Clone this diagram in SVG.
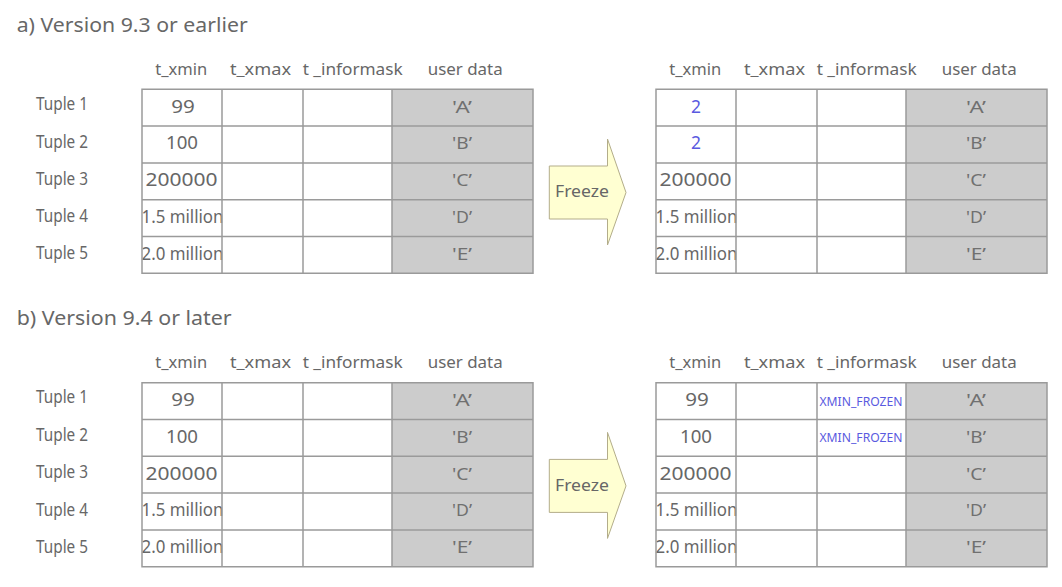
<svg xmlns="http://www.w3.org/2000/svg" width="1062" height="587" viewBox="0 0 1062 587">
<style>
text{font-family:"Noto Sans","DejaVu Sans",sans-serif;fill:#676767}
.title{font-size:20px}
.hdr{font-size:16.5px}
.tup{font-size:18.5px}
.cell{font-size:17.5px;text-anchor:middle}
.ud{font-size:17px;text-anchor:middle;fill:#707070}
.blue{fill:#5a5ae0}
.flag{font-size:12px;text-anchor:middle;fill:#5a5ae0}
.frz{font-size:17px}
.bgw{fill:#ffffff}
.bgg{fill:#cccccc}
.grid{fill:none;stroke:#9a9a9a;stroke-width:1.5}
.arrow{fill:#ffffd2;stroke:#b3ad8a;stroke-width:1}
</style>
<defs>
<path id="gridpath" d="M0,0H391V184H0Z M80,0V184 M161,0V184 M250,0V184 M0,36.8H391 M0,73.6H391 M0,110.4H391 M0,147.2H391"/>
</defs>

<g id="title-a"><text class="title" x="16.7" y="32.3" textLength="231" lengthAdjust="spacingAndGlyphs">a) Version 9.3 or earlier</text></g>
<g id="title-b"><text class="title" x="16.7" y="325" textLength="215" lengthAdjust="spacingAndGlyphs">b) Version 9.4 or later</text></g>

<g id="tuples-a">
<text class="tup" x="36" y="110" textLength="52" lengthAdjust="spacingAndGlyphs">Tuple 1</text>
<text class="tup" x="36" y="147.7" textLength="52" lengthAdjust="spacingAndGlyphs">Tuple 2</text>
<text class="tup" x="36" y="185" textLength="52" lengthAdjust="spacingAndGlyphs">Tuple 3</text>
<text class="tup" x="36" y="222.3" textLength="52" lengthAdjust="spacingAndGlyphs">Tuple 4</text>
<text class="tup" x="36" y="259.3" textLength="52" lengthAdjust="spacingAndGlyphs">Tuple 5</text>
</g>
<g id="tuples-b">
<text class="tup" x="36" y="403.4" textLength="52" lengthAdjust="spacingAndGlyphs">Tuple 1</text>
<text class="tup" x="36" y="441.1" textLength="52" lengthAdjust="spacingAndGlyphs">Tuple 2</text>
<text class="tup" x="36" y="478.4" textLength="52" lengthAdjust="spacingAndGlyphs">Tuple 3</text>
<text class="tup" x="36" y="515.7" textLength="52" lengthAdjust="spacingAndGlyphs">Tuple 4</text>
<text class="tup" x="36" y="552.7" textLength="52" lengthAdjust="spacingAndGlyphs">Tuple 5</text>
</g>

<g id="headers-a-before">
<text class="hdr" x="155.3" y="75" textLength="52" lengthAdjust="spacingAndGlyphs">t_xmin</text>
<text class="hdr" x="230" y="75" textLength="61" lengthAdjust="spacingAndGlyphs">t_xmax</text>
<text class="hdr" x="302.7" y="75" textLength="100" lengthAdjust="spacingAndGlyphs">t _informask</text>
<text class="hdr" x="427.7" y="75" textLength="75" lengthAdjust="spacingAndGlyphs">user data</text>
</g>
<g id="headers-a-after">
<text class="hdr" x="669.3" y="75" textLength="52" lengthAdjust="spacingAndGlyphs">t_xmin</text>
<text class="hdr" x="744" y="75" textLength="61" lengthAdjust="spacingAndGlyphs">t_xmax</text>
<text class="hdr" x="816.7" y="75" textLength="100" lengthAdjust="spacingAndGlyphs">t _informask</text>
<text class="hdr" x="941.7" y="75" textLength="75" lengthAdjust="spacingAndGlyphs">user data</text>
</g>
<g id="headers-b-before">
<text class="hdr" x="155.3" y="368.4" textLength="52" lengthAdjust="spacingAndGlyphs">t_xmin</text>
<text class="hdr" x="230" y="368.4" textLength="61" lengthAdjust="spacingAndGlyphs">t_xmax</text>
<text class="hdr" x="302.7" y="368.4" textLength="100" lengthAdjust="spacingAndGlyphs">t _informask</text>
<text class="hdr" x="427.7" y="368.4" textLength="75" lengthAdjust="spacingAndGlyphs">user data</text>
</g>
<g id="headers-b-after">
<text class="hdr" x="669.3" y="368.4" textLength="52" lengthAdjust="spacingAndGlyphs">t_xmin</text>
<text class="hdr" x="744" y="368.4" textLength="61" lengthAdjust="spacingAndGlyphs">t_xmax</text>
<text class="hdr" x="816.7" y="368.4" textLength="100" lengthAdjust="spacingAndGlyphs">t _informask</text>
<text class="hdr" x="941.7" y="368.4" textLength="75" lengthAdjust="spacingAndGlyphs">user data</text>
</g>

<g id="table-a-before" transform="translate(142,89.3)">
<rect class="bgw" x="0" y="0" width="250" height="184"/>
<rect class="bgg" x="250" y="0" width="141" height="184"/>
<text class="cell" x="41" y="23.4" textLength="23.6" lengthAdjust="spacingAndGlyphs">99</text>
<text class="cell" x="40" y="60.2" textLength="32" lengthAdjust="spacingAndGlyphs">100</text>
<text class="cell" x="39.5" y="97" textLength="72" lengthAdjust="spacingAndGlyphs">200000</text>
<text class="cell" x="40.5" y="133.8" textLength="82" lengthAdjust="spacingAndGlyphs">1.5 million</text>
<text class="cell" x="40.5" y="170.6" textLength="82" lengthAdjust="spacingAndGlyphs">2.0 million</text>
<text class="ud" x="320" y="23.4" textLength="20" lengthAdjust="spacingAndGlyphs">'A’</text>
<text class="ud" x="320" y="60.2" textLength="20" lengthAdjust="spacingAndGlyphs">'B’</text>
<text class="ud" x="320" y="97" textLength="20" lengthAdjust="spacingAndGlyphs">'C’</text>
<text class="ud" x="320" y="133.8" textLength="20" lengthAdjust="spacingAndGlyphs">'D’</text>
<text class="ud" x="320" y="170.6" textLength="20" lengthAdjust="spacingAndGlyphs">'E’</text>
<use href="#gridpath" class="grid"/>
</g>

<g id="table-a-after" transform="translate(656,89.3)">
<rect class="bgw" x="0" y="0" width="250" height="184"/>
<rect class="bgg" x="250" y="0" width="141" height="184"/>
<text class="cell blue" x="40" y="23.4" textLength="10" lengthAdjust="spacingAndGlyphs">2</text>
<text class="cell blue" x="40" y="60.2" textLength="10" lengthAdjust="spacingAndGlyphs">2</text>
<text class="cell" x="39.5" y="97" textLength="72" lengthAdjust="spacingAndGlyphs">200000</text>
<text class="cell" x="40.5" y="133.8" textLength="82" lengthAdjust="spacingAndGlyphs">1.5 million</text>
<text class="cell" x="40.5" y="170.6" textLength="82" lengthAdjust="spacingAndGlyphs">2.0 million</text>
<text class="ud" x="320" y="23.4" textLength="20" lengthAdjust="spacingAndGlyphs">'A’</text>
<text class="ud" x="320" y="60.2" textLength="20" lengthAdjust="spacingAndGlyphs">'B’</text>
<text class="ud" x="320" y="97" textLength="20" lengthAdjust="spacingAndGlyphs">'C’</text>
<text class="ud" x="320" y="133.8" textLength="20" lengthAdjust="spacingAndGlyphs">'D’</text>
<text class="ud" x="320" y="170.6" textLength="20" lengthAdjust="spacingAndGlyphs">'E’</text>
<use href="#gridpath" class="grid"/>
</g>

<g id="table-b-before" transform="translate(142,382.7)">
<rect class="bgw" x="0" y="0" width="250" height="184"/>
<rect class="bgg" x="250" y="0" width="141" height="184"/>
<text class="cell" x="41" y="23.4" textLength="23.6" lengthAdjust="spacingAndGlyphs">99</text>
<text class="cell" x="40" y="60.2" textLength="32" lengthAdjust="spacingAndGlyphs">100</text>
<text class="cell" x="39.5" y="97" textLength="72" lengthAdjust="spacingAndGlyphs">200000</text>
<text class="cell" x="40.5" y="133.8" textLength="82" lengthAdjust="spacingAndGlyphs">1.5 million</text>
<text class="cell" x="40.5" y="170.6" textLength="82" lengthAdjust="spacingAndGlyphs">2.0 million</text>
<text class="ud" x="320" y="23.4" textLength="20" lengthAdjust="spacingAndGlyphs">'A’</text>
<text class="ud" x="320" y="60.2" textLength="20" lengthAdjust="spacingAndGlyphs">'B’</text>
<text class="ud" x="320" y="97" textLength="20" lengthAdjust="spacingAndGlyphs">'C’</text>
<text class="ud" x="320" y="133.8" textLength="20" lengthAdjust="spacingAndGlyphs">'D’</text>
<text class="ud" x="320" y="170.6" textLength="20" lengthAdjust="spacingAndGlyphs">'E’</text>
<use href="#gridpath" class="grid"/>
</g>

<g id="table-b-after" transform="translate(656,382.7)">
<rect class="bgw" x="0" y="0" width="250" height="184"/>
<rect class="bgg" x="250" y="0" width="141" height="184"/>
<text class="cell" x="41" y="23.4" textLength="23.6" lengthAdjust="spacingAndGlyphs">99</text>
<text class="cell" x="40" y="60.2" textLength="32" lengthAdjust="spacingAndGlyphs">100</text>
<text class="cell" x="39.5" y="97" textLength="72" lengthAdjust="spacingAndGlyphs">200000</text>
<text class="cell" x="40.5" y="133.8" textLength="82" lengthAdjust="spacingAndGlyphs">1.5 million</text>
<text class="cell" x="40.5" y="170.6" textLength="82" lengthAdjust="spacingAndGlyphs">2.0 million</text>
<text class="flag" x="205" y="23" textLength="83" lengthAdjust="spacingAndGlyphs">XMIN_FROZEN</text>
<text class="flag" x="205" y="59.8" textLength="83" lengthAdjust="spacingAndGlyphs">XMIN_FROZEN</text>
<text class="ud" x="320" y="23.4" textLength="20" lengthAdjust="spacingAndGlyphs">'A’</text>
<text class="ud" x="320" y="60.2" textLength="20" lengthAdjust="spacingAndGlyphs">'B’</text>
<text class="ud" x="320" y="97" textLength="20" lengthAdjust="spacingAndGlyphs">'C’</text>
<text class="ud" x="320" y="133.8" textLength="20" lengthAdjust="spacingAndGlyphs">'D’</text>
<text class="ud" x="320" y="170.6" textLength="20" lengthAdjust="spacingAndGlyphs">'E’</text>
<use href="#gridpath" class="grid"/>
</g>

<g id="freeze-a">
<path class="arrow" d="M549.3,166H607.5V139L626,192.5L607.5,245V219H549.3Z"/>
<text class="frz" x="555" y="196.7" textLength="54" lengthAdjust="spacingAndGlyphs">Freeze</text>
</g>
<g id="freeze-b">
<path class="arrow" d="M549.3,459.4H607.5V432.4L626,485.9L607.5,538.4V512.4H549.3Z"/>
<text class="frz" x="555" y="490.6" textLength="54" lengthAdjust="spacingAndGlyphs">Freeze</text>
</g>

<g id="connectors"/>
</svg>
